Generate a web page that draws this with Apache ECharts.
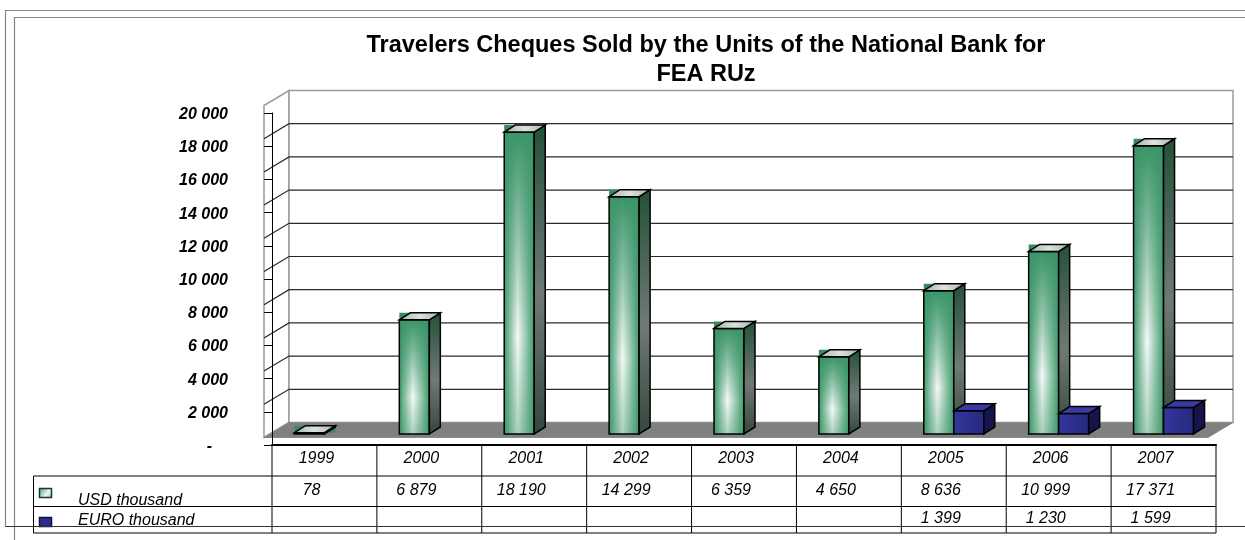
<!DOCTYPE html>
<html>
<head>
<meta charset="utf-8">
<title>Travelers Cheques</title>
<script src="https://cdn.jsdelivr.net/npm/echarts@6/dist/echarts.min.js"></script>
<style>
	html, body { margin: 0; padding: 0; background: #fff; }
	#chart { width: 1245px; height: 540px; }
</style>
</head>
<body>
<div id="chart"></div>
<script>
var titleText = 'Travelers Cheques Sold by the Units of the National Bank for\nFEA RUz';
var years = ['1999', '2000', '2001', '2002', '2003', '2004', '2005', '2006', '2007'];
var usdValues = [78, 6879, 18190, 14299, 6359, 4650, 8636, 10999, 17371];
var euroValues = [null, null, null, null, null, null, 1399, 1230, 1599];
var seriesNames = ['USD thousand', 'EURO thousand'];
var yMax = 20000;
var yStep = 2000;

var FONT = '"Liberation Sans", Arial, sans-serif';
// 3d look: front plane / back plane offsets from the grid, bar depth
var frontOff = [-8, -7.5];
var backOff = [17, -22.5];
var barW = 30;
var barLift = -11;
var depth = [11, -7];

function fmt(v) {
	return String(v).replace(/\B(?=(\d{3})+(?!\d))/g, ' ');
}

function renderWalls(params, api) {
	var bw = api.size([1, 0])[0];
	var p0 = api.coord([0, 0]);
	var left = p0[0] - bw / 2;
	var base = p0[1];
	var right = api.coord([years.length - 1, 0])[0] + bw / 2;
	var topY = api.coord([0, yMax])[1];
	var F = frontOff, B = backOff;
	var kids = [];
	// side wall
	kids.push({
		type: 'polygon',
		shape: { points: [[left + F[0], topY + F[1]], [left + B[0], topY + B[1]], [left + B[0], base + B[1]], [left + F[0], base + F[1]]] },
		style: { fill: '#fff', stroke: '#9a9a9a', lineWidth: 1.5 }
	});
	// back wall
	kids.push({
		type: 'rect',
		shape: { x: left + B[0], y: topY + B[1], width: right - left, height: base - topY },
		style: { fill: '#fff', stroke: '#9a9a9a', lineWidth: 1.5 }
	});
	for (var v = yStep; v < yMax; v += yStep) {
		var y = api.coord([0, v])[1];
		kids.push({
			type: 'polyline',
			shape: { points: [[left + F[0], y + F[1]], [left + B[0], y + B[1]], [right + B[0], y + B[1]]] },
			style: { fill: null, stroke: '#2a2a2a', lineWidth: 1.2 }
		});
	}
	// floor
	kids.push({
		type: 'polygon',
		shape: { points: [[left + F[0], base + F[1]], [right + F[0], base + F[1]], [right + B[0], base + B[1]], [left + B[0], base + B[1]]] },
		style: { fill: '#808080', stroke: '#8a8a8a', lineWidth: 1 }
	});
	return { type: 'group', children: kids };
}

function makeBarRender(isEuro) {
	return function (params, api) {
		var v = api.value(1);
		var bottom = api.coord([api.value(0), 0]);
		var top = api.coord([api.value(0), v]);
		var x0 = bottom[0] + (isEuro ? 0 : -barW);
		var x1 = x0 + barW;
		var yb = bottom[1] + barLift;
		var yt = top[1] + barLift;
		var dx = depth[0], dy = depth[1];
		var kids = [];
		var frontFill, sideFill, topFill;
		if (isEuro) {
			frontFill = { type: 'linear', x: 0, y: 0, x2: 1, y2: 0, colorStops: [{ offset: 0, color: '#35369c' }, { offset: 1, color: '#27287e' }] };
			sideFill = '#15154c';
			topFill = '#3a3aa0';
		} else {
			kids.push({
				type: 'rect',
				shape: { x: x0, y: yt + dy, width: barW + dx, height: -dy },
				style: { fill: '#3a8a60' }
			});
			frontFill = { type: 'linear', x: 0, y: 0, x2: 1, y2: 0, colorStops: [
				{ offset: 0, color: '#3e9a6c' }, { offset: 0.45, color: '#f6f9f7' }, { offset: 1, color: '#3e9a6c' }
			] };
			sideFill = { type: 'linear', x: 0, y: 0, x2: 0, y2: 1, colorStops: [
				{ offset: 0, color: '#24503a' }, { offset: 0.55, color: '#6f7a74' }, { offset: 1, color: '#33473b' }
			] };
			topFill = { type: 'linear', x: 0, y: 0, x2: 1, y2: 0, colorStops: [
				{ offset: 0, color: '#9fb3a6' }, { offset: 0.5, color: '#dde2de' }, { offset: 1, color: '#a4b5aa' }
			] };
		}
		kids.push({
			type: 'rect',
			shape: { x: x0, y: yt, width: barW, height: yb - yt },
			style: { fill: frontFill }
		});
		if (!isEuro) {
			kids.push({
				type: 'rect',
				shape: { x: x0, y: yt, width: barW, height: yb - yt },
				style: { fill: { type: 'linear', x: 0, y: 0, x2: 0, y2: 1, colorStops: [
					{ offset: 0, color: 'rgba(59,148,104,1)' }, { offset: 0.35, color: 'rgba(59,148,104,0.5)' },
					{ offset: 0.68, color: 'rgba(59,148,104,0)' }, { offset: 1, color: 'rgba(59,148,104,0.4)' }
				] } }
			});
		}
		kids.push({
			type: 'rect',
			shape: { x: x0, y: yt, width: barW, height: yb - yt },
			style: { fill: null, stroke: '#000', lineWidth: 1.5 }
		});
		kids.push({
			type: 'polygon',
			shape: { points: [[x1, yt], [x1 + dx, yt + dy], [x1 + dx, yb + dy], [x1, yb]] },
			style: { fill: sideFill, stroke: '#000', lineWidth: 1.5 }
		});
		kids.push({
			type: 'polygon',
			shape: { points: [[x0, yt], [x0 + dx, yt + dy], [x1 + dx, yt + dy], [x1, yt]] },
			style: { fill: topFill, stroke: '#000', lineWidth: 1.5 }
		});
		return { type: 'group', children: kids };
	};
}

function renderTable(params, api) {
	var i = api.value(0);
	var c = api.coord([i, 0]);
	var bw = api.size([1, 0])[0];
	var x0 = c[0] - bw / 2;
	var base = c[1];
	var lineStyle = { stroke: '#000', lineWidth: 1 };
	var kids = [
		{ type: 'line', shape: { x1: x0, y1: base, x2: x0, y2: base + 88 }, style: lineStyle },
		{ type: 'line', shape: { x1: x0, y1: base + 31, x2: x0 + bw, y2: base + 31 }, style: lineStyle },
		{ type: 'line', shape: { x1: x0, y1: base + 61.5, x2: x0 + bw, y2: base + 61.5 }, style: lineStyle },
		{ type: 'line', shape: { x1: x0, y1: base + 88, x2: x0 + bw, y2: base + 88 }, style: lineStyle }
	];
	if (i === years.length - 1) {
		kids.push({ type: 'line', shape: { x1: x0 + bw, y1: base, x2: x0 + bw, y2: base + 88 }, style: lineStyle });
	}
	var cellFont = 'italic 16px ' + FONT;
	if (usdValues[i] != null) {
		kids.push({ type: 'text', x: c[0] - 13, y: base + 46, style: { text: fmt(usdValues[i]), font: cellFont, fill: '#000', align: 'center', verticalAlign: 'middle' } });
	}
	if (euroValues[i] != null) {
		kids.push({ type: 'text', x: c[0] - 13, y: base + 74, style: { text: fmt(euroValues[i]), font: cellFont, fill: '#000', align: 'center', verticalAlign: 'middle' } });
	}
	return { type: 'group', children: kids };
}

var chart = echarts.init(document.getElementById('chart'));

var frameGray = '#858585';
var option = {
	animation: false,
	backgroundColor: '#fff',
	textStyle: { fontFamily: FONT },
	grid: {
		left: 272,
		right: 29,
		top: 113,
		bottom: 95,
		containLabel: false,
		outerBoundsMode: 'none'
	},
	xAxis: {
		type: 'category',
		data: years,
		boundaryGap: true,
		axisLine: { show: true, lineStyle: { color: '#000', width: 2 } },
		axisTick: { show: false },
		splitLine: { show: false },
		axisLabel: {
			margin: 6,
			color: '#000',
			fontSize: 16,
			fontStyle: 'italic',
			fontFamily: FONT,
			padding: [0, 16, 0, 0]
		}
	},
	yAxis: {
		type: 'value',
		min: 0,
		max: yMax,
		interval: yStep,
		z: 10,
		splitLine: { show: false },
		axisLine: { show: true, lineStyle: { color: '#000', width: 1 } },
		axisTick: { show: true, length: 8, lineStyle: { color: '#000', width: 1 } },
		axisLabel: {
			margin: 44,
			color: '#000',
			fontSize: 16,
			fontWeight: 'bold',
			fontStyle: 'italic',
			fontFamily: FONT,
			padding: [3, 0, 0, 0],
			formatter: function (v) {
				return v === 0 ? '{z|-}' : fmt(v);
			},
			rich: {
				z: { padding: [0, 16, 0, 0], fontSize: 16, fontWeight: 'bold', fontStyle: 'italic', color: '#000', fontFamily: FONT }
			}
		}
	},
	graphic: [
		{ type: 'polyline', silent: true, shape: { points: [[1245, 10.5], [5.5, 10.5], [5.5, 526.5], [1245, 526.5]] }, style: { fill: null, stroke: frameGray, lineWidth: 1.2 } },
		{ type: 'polyline', silent: true, shape: { points: [[1245, 17.5], [14.5, 17.5], [14.5, 540]] }, style: { fill: null, stroke: frameGray, lineWidth: 1.2 } },
		{ type: 'line', silent: true, shape: { x1: 5.5, y1: 526.5, x2: 1245, y2: 526.5 }, style: { stroke: '#333', lineWidth: 1 }, z: 20 },
		{
			type: 'text', silent: true, x: 706, y: 31,
			style: { text: titleText, font: 'bold 23.5px ' + FONT, fill: '#000', align: 'center', verticalAlign: 'top', lineHeight: 29 }
		},
		// legend cells of the data table
		{ type: 'polyline', silent: true, shape: { points: [[272, 476], [33.5, 476], [33.5, 533], [272, 533]] }, style: { fill: null, stroke: '#000', lineWidth: 1 } },
		{ type: 'line', silent: true, shape: { x1: 33.5, y1: 506.5, x2: 272, y2: 506.5 }, style: { stroke: '#000', lineWidth: 1 } },
		{
			type: 'rect', silent: true, shape: { x: 39.5, y: 488.5, width: 12, height: 9 },
			style: { fill: { type: 'linear', x: 0, y: 0, x2: 1, y2: 1, colorStops: [{ offset: 0, color: '#3e9a6c' }, { offset: 0.6, color: '#eef5f0' }, { offset: 1, color: '#8fc0a4' }] }, stroke: '#1c3a2a', lineWidth: 1.5 }
		},
		{ type: 'rect', silent: true, shape: { x: 39.5, y: 517.5, width: 12, height: 9 }, style: { fill: '#2e2e8e', stroke: '#101040', lineWidth: 1.5 } },
		{ type: 'text', silent: true, x: 78, y: 501, style: { text: seriesNames[0], font: 'italic 16px ' + FONT, fill: '#000', align: 'left', verticalAlign: 'middle' } },
		{ type: 'text', silent: true, x: 78, y: 521, style: { text: seriesNames[1], font: 'italic 16px ' + FONT, fill: '#000', align: 'left', verticalAlign: 'middle' } }
	],
	series: [
		{
			name: 'walls',
			type: 'custom',
			clip: false,
			silent: true,
			z: 1,
			renderItem: renderWalls,
			data: [[0, 0]]
		},
		{
			name: seriesNames[0],
			type: 'custom',
			clip: false,
			z: 3,
			renderItem: makeBarRender(false),
			data: usdValues.map(function (v, i) { return [i, v]; })
		},
		{
			name: seriesNames[1],
			type: 'custom',
			clip: false,
			z: 4,
			renderItem: makeBarRender(true),
			data: euroValues.map(function (v, i) { return [i, v]; }).filter(function (d) { return d[1] != null; })
		},
		{
			name: 'table',
			type: 'custom',
			clip: false,
			silent: true,
			z: 5,
			renderItem: renderTable,
			data: years.map(function (y, i) { return [i, 0]; })
		}
	]
};

chart.setOption(option);
</script>
</body>
</html>
